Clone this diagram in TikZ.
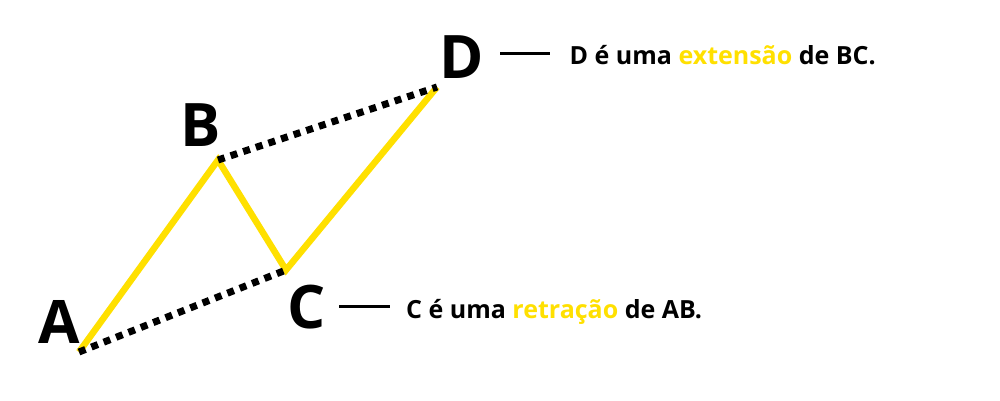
\documentclass[tikz,border=0pt]{standalone}
\usepackage{fontspec}
\setmainfont{Open Sans}[BoldFont={* Bold}]
\definecolor{ylw}{RGB}{255,224,0}
\begin{document}
\begin{tikzpicture}[x=1pt,y=-1pt,
  wave/.style={draw=ylw,line width=6.5pt,line join=miter},
  dots/.style={draw=black,line width=7pt,dash pattern=on 7pt off 6.3pt},
  bigl/.style={inner sep=0pt,anchor=base west,font=\fontsize{60}{60}\selectfont\bfseries},
  note/.style={inner sep=0pt,anchor=base west,font=\fontsize{25}{25}\selectfont\bfseries},
  tick/.style={draw=black,line width=3pt}]
\useasboundingbox[fill=white] (0,0) rectangle (1000,400);
\coordinate (A) at (79,352);
\coordinate (B) at (218,160);
\coordinate (C) at (286,270);
\coordinate (D) at (437,87);
\draw[wave] (A) -- (B) -- (C) -- (D);
\draw[dots] (A) -- (C);
\draw[dots] (B) -- (D);
\node[bigl] (la) at (38,343) {A};
\node[bigl] (lb) at (180,146) {B};
\node[bigl] (lc) at (287,328) {C};
\node[bigl] (ld) at (439,78) {D};
\coordinate (d1) at (500,53);
\coordinate (d2) at (550,53);
\coordinate (c1) at (339,306);
\coordinate (c2) at (390,306);
\draw[tick] (d1) -- (d2);
\draw[tick] (c1) -- (c2);
\node[note] (td) at (569.5,64) {D é uma \textcolor{ylw}{extensão} de BC.};
\node[note] (tc) at (406,318) {C é uma \textcolor{ylw}{retração} de AB.};
\end{tikzpicture}
\end{document}
